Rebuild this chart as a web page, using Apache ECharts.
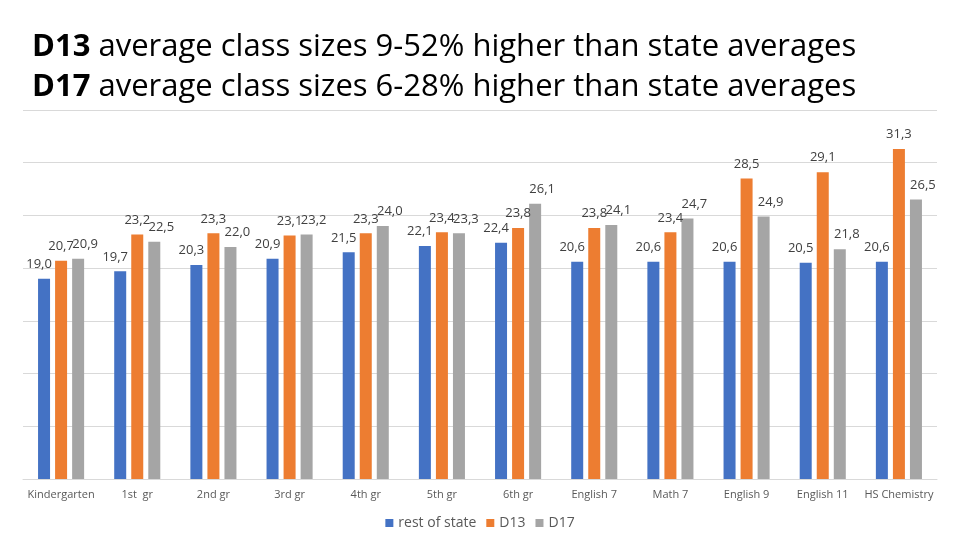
<!DOCTYPE html>
<html>
<head>
<meta charset="utf-8">
<script src="https://cdn.jsdelivr.net/npm/echarts@6/dist/echarts.min.js"></script>
<style>
  html, body { margin: 0; padding: 0; background: #fff; }
  #main { width: 960px; height: 540px; }
</style>
</head>
<body>
<div id="main"></div>
<script>
var categories = ['Kindergarten', '1st  gr', '2nd gr', '3rd gr', '4th gr', '5th gr',
  '6th gr', 'English 7', 'Math 7', 'English 9', 'English 11', 'HS Chemistry'];
var restOfState = [19.0, 19.7, 20.3, 20.9, 21.5, 22.1, 22.4, 20.6, 20.6, 20.6, 20.5, 20.6];
var d13 = [20.7, 23.2, 23.3, 23.1, 23.3, 23.4, 23.8, 23.8, 23.4, 28.5, 29.1, 31.3];
var d17 = [20.9, 22.5, 22.0, 23.2, 24.0, 23.3, 26.1, 24.1, 24.7, 24.9, 21.8, 26.5];

var myChart = echarts.init(document.getElementById('main'));

// excel style decimal comma
function fmt(p) {
  return p.value.toFixed(1).replace('.', ',');
}

function barSeries(name, data, color, dx) {
  return {
    name: name,
    type: 'bar',
    data: data,
    barWidth: 12,
    barGap: '42%',
    itemStyle: { color: color },
    label: {
      show: true,
      position: 'top',
      distance: 8,
      offset: [dx, 0],
      formatter: fmt,
      color: '#404040',
      fontSize: 13,
      fontFamily: 'Open Sans'
    }
  };
}

var option = {
  animation: false,
  title: {
    left: 27,
    top: 22,
    text: '{b|D13} average class sizes 9-52% higher than state averages\n{b|D17} average class sizes 6-28% higher than state averages',
    textStyle: {
      color: '#000',
      fontSize: 31,
      fontWeight: 'normal',
      fontFamily: 'Open Sans',
      lineHeight: 40,
      rich: {
        b: { fontWeight: 'bold', fontSize: 31, fontFamily: 'Open Sans', lineHeight: 40, color: '#000' }
      }
    }
  },
  legend: {
    bottom: 5,
    left: 'center',
    itemWidth: 8,
    itemHeight: 8,
    itemGap: 10,
    icon: 'rect',
    textStyle: { color: '#595959', fontSize: 14, fontFamily: 'Open Sans' }
  },
  grid: { left: 23, right: 23, top: 110, bottom: 61 },
  xAxis: {
    type: 'category',
    data: categories,
    axisTick: { show: false },
    axisLine: { lineStyle: { color: '#d9d9d9' } },
    axisLabel: { interval: 0, color: '#595959', fontSize: 11, fontFamily: 'Open Sans', margin: 10 }
  },
  yAxis: {
    type: 'value',
    min: 0,
    max: 35,
    interval: 5,
    axisLabel: { show: false },
    splitLine: { lineStyle: { color: '#d9d9d9' } }
  },
  series: [
    barSeries('rest of state', restOfState, '#4472C4', -5),
    barSeries('D13', d13, '#ED7D31', 0),
    barSeries('D17', d17, '#A5A5A5', 7)
  ]
};

option && myChart.setOption(option);
</script>
</body>
</html>
